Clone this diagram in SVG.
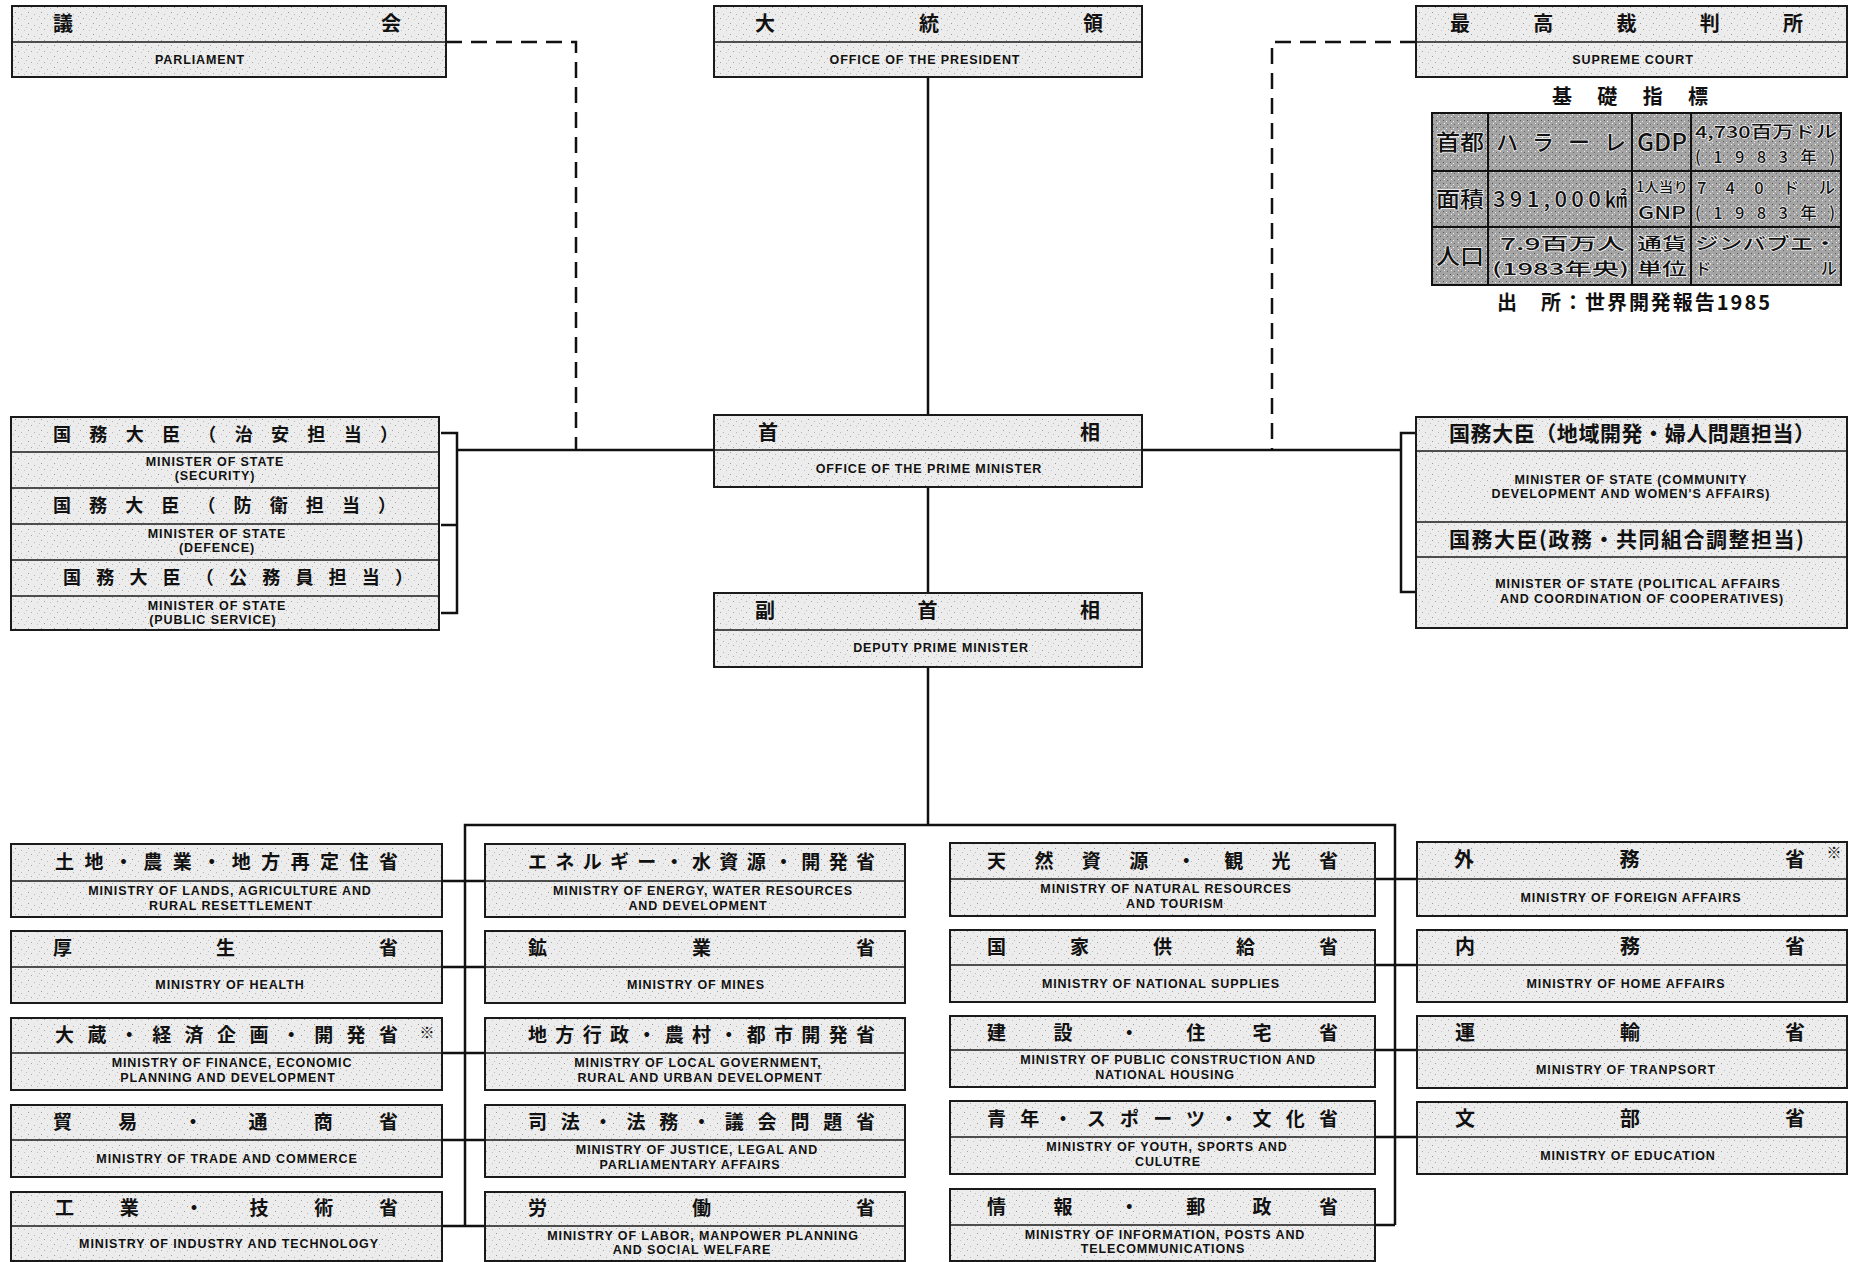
<svg xmlns="http://www.w3.org/2000/svg" width="1850" height="1262" viewBox="0 0 1850 1262">
<defs>
<pattern id="spk" width="13" height="11" patternUnits="userSpaceOnUse">
<rect width="13" height="11" fill="#ececec"/>
<rect x="2" y="1" width="1" height="1" fill="#9a9a9a"/>
<rect x="8" y="3" width="1" height="1" fill="#b5b5b5"/>
<rect x="5" y="7" width="1" height="1" fill="#a5a5a5"/>
<rect x="11" y="8" width="1" height="1" fill="#c5c5c5"/>
<rect x="0" y="5" width="1" height="1" fill="#bdbdbd"/>
</pattern>
<pattern id="dk" width="7" height="7" patternUnits="userSpaceOnUse">
<rect width="7" height="7" fill="#a4a4a4"/>
<rect x="1" y="1" width="1" height="1" fill="#555"/>
<rect x="4" y="2" width="1" height="1" fill="#eee"/>
<rect x="2" y="4" width="1" height="1" fill="#f0f0f0"/>
<rect x="5" y="5" width="1" height="1" fill="#666"/>
</pattern>
</defs>
<style>
.box{fill:url(#spk);stroke:#1a1a1a;stroke-width:2}
.dv{stroke:#1a1a1a;stroke-width:1.6}
.jp{font-family:"Noto Sans CJK JP",sans-serif;font-weight:700;fill:#111}
.en{font-family:"Liberation Sans",Arial,sans-serif;font-weight:700;font-size:12.5px;fill:#111;text-anchor:middle;letter-spacing:0.9px}
.ln{stroke:#111;stroke-width:2.5;fill:none}
.dash{stroke-dasharray:16 9}
.cell{fill:url(#dk);stroke:#111;stroke-width:2}
.tb{font-family:"Noto Sans CJK JP",sans-serif;font-weight:500;fill:#111;stroke:#f4f4f4;stroke-width:1.4;paint-order:stroke}
.tl{font-family:"Noto Sans CJK JP",sans-serif;font-weight:700;fill:#111}
</style>
<rect width="1850" height="1262" fill="#ffffff"/>

<g id="connectors">
<path class="ln dash" d="M446,42 H576 V450"/>
<path class="ln dash" d="M1416,42 H1272 V450"/>
<path class="ln" d="M928,77 V415"/>
<path class="ln" d="M928,487 V593"/>
<path class="ln" d="M928,667 V825"/>
<path class="ln" d="M457,450 H714"/>
<path class="ln" d="M1142,450 H1401"/>
<path class="ln" d="M441,433 H457 V613 H441"/>
<path class="ln" d="M441,525 H457"/>
<path class="ln" d="M1416,433 H1401 V592 H1416"/>
<path class="ln" d="M465,1226 V825 H1395 V1225"/>
<path class="ln" d="M442,881 H485 M442,967 H485 M442,1053 H485 M442,1140 H485 M442,1226 H485"/>
<path class="ln" d="M1375,879 H1417 M1375,965 H1417 M1375,1050 H1417 M1375,1137 H1417 M1375,1225 H1395"/>
</g>

<g id="parliament">
<rect class="box" x="12" y="6" width="434" height="71"/>
<line class="dv" x1="12" y1="42" x2="446" y2="42"/>
<text class="jp" x="53" y="31" font-size="20" textLength="348" lengthAdjust="spacing">議会</text>
<text class="en" x="200" y="64">PARLIAMENT</text>
</g>

<g id="president">
<rect class="box" x="714" y="6" width="428" height="71"/>
<line class="dv" x1="714" y1="42" x2="1142" y2="42"/>
<text class="jp" x="755" y="31" font-size="20" textLength="348" lengthAdjust="spacing">大統領</text>
<text class="en" x="925" y="64">OFFICE OF THE PRESIDENT</text>
</g>

<g id="supreme-court">
<rect class="box" x="1416" y="6" width="431" height="71"/>
<line class="dv" x1="1416" y1="42" x2="1847" y2="42"/>
<text class="jp" x="1450" y="31" font-size="20" textLength="353" lengthAdjust="spacing">最高裁判所</text>
<text class="en" x="1633" y="64">SUPREME COURT</text>
</g>

<g id="indicators">
<text class="tl" x="1552" y="104" font-size="20" textLength="156" lengthAdjust="spacing">基礎指標</text>
<rect class="cell" x="1432" y="113" width="56" height="58"/>
<rect class="cell" x="1488" y="113" width="144" height="58"/>
<rect class="cell" x="1632" y="113" width="59" height="58"/>
<rect class="cell" x="1691" y="113" width="150" height="58"/>
<rect class="cell" x="1432" y="171" width="56" height="56"/>
<rect class="cell" x="1488" y="171" width="144" height="56"/>
<rect class="cell" x="1632" y="171" width="59" height="56"/>
<rect class="cell" x="1691" y="171" width="150" height="56"/>
<rect class="cell" x="1432" y="227" width="56" height="58"/>
<rect class="cell" x="1488" y="227" width="144" height="58"/>
<rect class="cell" x="1632" y="227" width="59" height="58"/>
<rect class="cell" x="1691" y="227" width="150" height="58"/>
<text class="tb" x="1436" y="150" font-size="22" textLength="48" lengthAdjust="spacingAndGlyphs">首都</text>
<text class="tb" x="1496" y="150" font-size="22" textLength="130" lengthAdjust="spacing">ハラーレ</text>
<text class="tb" x="1637" y="151" font-size="24" textLength="50" lengthAdjust="spacingAndGlyphs">GDP</text>
<text class="tb" x="1695" y="138" font-size="16.5" textLength="142" lengthAdjust="spacingAndGlyphs">4,730百万ドル</text>
<text class="tb" x="1695" y="163" font-size="16.5" textLength="140" lengthAdjust="spacing">(1983年)</text>
<text class="tb" x="1436" y="207" font-size="22" textLength="48" lengthAdjust="spacingAndGlyphs">面積</text>
<text class="tb" x="1493" y="207" font-size="22" textLength="134" lengthAdjust="spacing">391,000㎢</text>
<text class="tb" x="1636" y="192" font-size="14" textLength="52" lengthAdjust="spacingAndGlyphs">1人当り</text>
<text class="tb" x="1638" y="219" font-size="17" textLength="48" lengthAdjust="spacingAndGlyphs">GNP</text>
<text class="tb" x="1697" y="194" font-size="16.5" textLength="138" lengthAdjust="spacing">740ドル</text>
<text class="tb" x="1695" y="219" font-size="16.5" textLength="140" lengthAdjust="spacing">(1983年)</text>
<text class="tb" x="1436" y="264" font-size="22" textLength="48" lengthAdjust="spacingAndGlyphs">人口</text>
<text class="tb" x="1500" y="250" font-size="16.5" textLength="125" lengthAdjust="spacingAndGlyphs">7.9百万人</text>
<text class="tb" x="1492" y="275" font-size="16.5" textLength="137" lengthAdjust="spacingAndGlyphs">(1983年央)</text>
<text class="tb" x="1637" y="250" font-size="16.5" textLength="50" lengthAdjust="spacingAndGlyphs">通貨</text>
<text class="tb" x="1637" y="275" font-size="16.5" textLength="50" lengthAdjust="spacingAndGlyphs">単位</text>
<text class="tb" x="1695" y="250" font-size="16.5" textLength="142" lengthAdjust="spacingAndGlyphs">ジンバブエ・</text>
<text class="tb" x="1695" y="275" font-size="16.5" textLength="142" lengthAdjust="spacing">ドル</text>
<text class="tl" x="1497" y="310" font-size="20" textLength="273" lengthAdjust="spacing">出　所：世界開発報告1985</text>
</g>

<g id="ministers-of-state-left">
<rect class="box" x="11" y="417" width="428" height="213"/>
<line class="dv" x1="11" y1="452" x2="439" y2="452"/>
<line class="dv" x1="11" y1="488" x2="439" y2="488"/>
<line class="dv" x1="11" y1="524" x2="439" y2="524"/>
<line class="dv" x1="11" y1="560" x2="439" y2="560"/>
<line class="dv" x1="11" y1="596" x2="439" y2="596"/>
<text class="jp" x="53" y="441" font-size="18" textLength="345" lengthAdjust="spacing">国務大臣（治安担当）</text>
<text class="en" x="215" y="466">MINISTER OF STATE</text>
<text class="en" x="215" y="480">(SECURITY)</text>
<text class="jp" x="53" y="512" font-size="18" textLength="343" lengthAdjust="spacing">国務大臣（防衛担当）</text>
<text class="en" x="217" y="538">MINISTER OF STATE</text>
<text class="en" x="217" y="552">(DEFENCE)</text>
<text class="jp" x="63" y="584" font-size="18" textLength="350" lengthAdjust="spacing">国務大臣（公務員担当）</text>
<text class="en" x="217" y="610">MINISTER OF STATE</text>
<text class="en" x="213" y="624">(PUBLIC SERVICE)</text>
</g>

<g id="prime-minister">
<rect class="box" x="714" y="415" width="428" height="72"/>
<line class="dv" x1="714" y1="450" x2="1142" y2="450"/>
<text class="jp" x="758" y="440" font-size="20" textLength="342" lengthAdjust="spacing">首相</text>
<text class="en" x="929" y="473">OFFICE OF THE PRIME MINISTER</text>
</g>

<g id="ministers-of-state-right">
<rect class="box" x="1416" y="417" width="431" height="211"/>
<line class="dv" x1="1416" y1="451" x2="1847" y2="451"/>
<line class="dv" x1="1416" y1="522" x2="1847" y2="522"/>
<line class="dv" x1="1416" y1="557" x2="1847" y2="557"/>
<text class="jp" x="1449" y="441" font-size="21" textLength="366" lengthAdjust="spacing">国務大臣（地域開発・婦人問題担当）</text>
<text class="en" x="1631" y="484">MINISTER OF STATE (COMMUNITY</text>
<text class="en" x="1631" y="498">DEVELOPMENT AND WOMEN'S AFFAIRS)</text>
<text class="jp" x="1449" y="547" font-size="21" textLength="355" lengthAdjust="spacing">国務大臣(政務・共同組合調整担当)</text>
<text class="en" x="1638" y="588">MINISTER OF STATE (POLITICAL AFFAIRS</text>
<text class="en" x="1642" y="603">AND COORDINATION OF COOPERATIVES)</text>
</g>

<g id="deputy-prime-minister">
<rect class="box" x="714" y="593" width="428" height="74"/>
<line class="dv" x1="714" y1="630" x2="1142" y2="630"/>
<text class="jp" x="755" y="618" font-size="20" textLength="345" lengthAdjust="spacing">副首相</text>
<text class="en" x="941" y="652">DEPUTY PRIME MINISTER</text>
</g>

<g id="m-lands">
<rect class="box" x="11" y="844" width="431" height="73"/>
<line class="dv" x1="11" y1="881" x2="442" y2="881"/>
<text class="jp" x="55" y="869" font-size="19" textLength="343" lengthAdjust="spacing">土地・農業・地方再定住省</text>
<text class="en" x="230" y="895">MINISTRY OF LANDS, AGRICULTURE AND</text>
<text class="en" x="231" y="910">RURAL RESETTLEMENT</text>
</g>
<g id="m-health">
<rect class="box" x="11" y="931" width="431" height="72"/>
<line class="dv" x1="11" y1="967" x2="442" y2="967"/>
<text class="jp" x="53" y="955" font-size="19" textLength="345" lengthAdjust="spacing">厚生省</text>
<text class="en" x="230" y="989">MINISTRY OF HEALTH</text>
</g>
<g id="m-finance">
<rect class="box" x="11" y="1018" width="431" height="72"/>
<line class="dv" x1="11" y1="1053" x2="442" y2="1053"/>
<text class="jp" x="55" y="1042" font-size="19" textLength="343" lengthAdjust="spacing">大蔵・経済企画・開発省</text>
<text class="jp" x="427" y="1038" font-size="15" text-anchor="middle">※</text>
<text class="en" x="232" y="1067">MINISTRY OF FINANCE, ECONOMIC</text>
<text class="en" x="228" y="1082">PLANNING AND DEVELOPMENT</text>
</g>
<g id="m-trade">
<rect class="box" x="11" y="1105" width="431" height="72"/>
<line class="dv" x1="11" y1="1140" x2="442" y2="1140"/>
<text class="jp" x="53" y="1129" font-size="19" textLength="345" lengthAdjust="spacing">貿易・通商省</text>
<text class="en" x="227" y="1163">MINISTRY OF TRADE AND COMMERCE</text>
</g>
<g id="m-industry">
<rect class="box" x="11" y="1192" width="431" height="69"/>
<line class="dv" x1="11" y1="1226" x2="442" y2="1226"/>
<text class="jp" x="55" y="1215" font-size="19" textLength="343" lengthAdjust="spacing">工業・技術省</text>
<text class="en" x="229" y="1248">MINISTRY OF INDUSTRY AND TECHNOLOGY</text>
</g>

<g id="m-energy">
<rect class="box" x="485" y="844" width="420" height="73"/>
<line class="dv" x1="485" y1="881" x2="905" y2="881"/>
<text class="jp" x="528" y="869" font-size="19" textLength="347" lengthAdjust="spacing">エネルギー・水資源・開発省</text>
<text class="en" x="703" y="895">MINISTRY OF ENERGY, WATER RESOURCES</text>
<text class="en" x="698" y="910">AND DEVELOPMENT</text>
</g>
<g id="m-mines">
<rect class="box" x="485" y="931" width="420" height="72"/>
<line class="dv" x1="485" y1="967" x2="905" y2="967"/>
<text class="jp" x="528" y="955" font-size="19" textLength="347" lengthAdjust="spacing">鉱業省</text>
<text class="en" x="696" y="989">MINISTRY OF MINES</text>
</g>
<g id="m-local-government">
<rect class="box" x="485" y="1018" width="420" height="72"/>
<line class="dv" x1="485" y1="1053" x2="905" y2="1053"/>
<text class="jp" x="528" y="1042" font-size="19" textLength="347" lengthAdjust="spacing">地方行政・農村・都市開発省</text>
<text class="en" x="698" y="1067">MINISTRY OF LOCAL GOVERNMENT,</text>
<text class="en" x="700" y="1082">RURAL AND URBAN DEVELOPMENT</text>
</g>
<g id="m-justice">
<rect class="box" x="485" y="1105" width="420" height="72"/>
<line class="dv" x1="485" y1="1140" x2="905" y2="1140"/>
<text class="jp" x="528" y="1129" font-size="19" textLength="347" lengthAdjust="spacing">司法・法務・議会問題省</text>
<text class="en" x="697" y="1154">MINISTRY OF JUSTICE, LEGAL AND</text>
<text class="en" x="690" y="1169">PARLIAMENTARY AFFAIRS</text>
</g>
<g id="m-labor">
<rect class="box" x="485" y="1192" width="420" height="69"/>
<line class="dv" x1="485" y1="1226" x2="905" y2="1226"/>
<text class="jp" x="528" y="1215" font-size="19" textLength="347" lengthAdjust="spacing">労働省</text>
<text class="en" x="703" y="1240">MINISTRY OF LABOR, MANPOWER PLANNING</text>
<text class="en" x="692" y="1254">AND SOCIAL WELFARE</text>
</g>

<g id="m-natural-resources">
<rect class="box" x="950" y="843" width="425" height="73"/>
<line class="dv" x1="950" y1="879" x2="1375" y2="879"/>
<text class="jp" x="987" y="868" font-size="19" textLength="351" lengthAdjust="spacing">天然資源・観光省</text>
<text class="en" x="1166" y="893">MINISTRY OF NATURAL RESOURCES</text>
<text class="en" x="1175" y="908">AND TOURISM</text>
</g>
<g id="m-national-supplies">
<rect class="box" x="950" y="930" width="425" height="72"/>
<line class="dv" x1="950" y1="965" x2="1375" y2="965"/>
<text class="jp" x="987" y="954" font-size="19" textLength="351" lengthAdjust="spacing">国家供給省</text>
<text class="en" x="1161" y="988">MINISTRY OF NATIONAL SUPPLIES</text>
</g>
<g id="m-public-construction">
<rect class="box" x="950" y="1016" width="425" height="71"/>
<line class="dv" x1="950" y1="1050" x2="1375" y2="1050"/>
<text class="jp" x="987" y="1040" font-size="19" textLength="351" lengthAdjust="spacing">建設・住宅省</text>
<text class="en" x="1168" y="1064">MINISTRY OF PUBLIC CONSTRUCTION AND</text>
<text class="en" x="1165" y="1079">NATIONAL HOUSING</text>
</g>
<g id="m-youth">
<rect class="box" x="950" y="1101" width="425" height="73"/>
<line class="dv" x1="950" y1="1137" x2="1375" y2="1137"/>
<text class="jp" x="987" y="1126" font-size="19" textLength="351" lengthAdjust="spacing">青年・スポーツ・文化省</text>
<text class="en" x="1167" y="1151">MINISTRY OF YOUTH, SPORTS AND</text>
<text class="en" x="1168" y="1166">CULUTRE</text>
</g>
<g id="m-information">
<rect class="box" x="950" y="1189" width="425" height="72"/>
<line class="dv" x1="950" y1="1225" x2="1375" y2="1225"/>
<text class="jp" x="987" y="1214" font-size="19" textLength="351" lengthAdjust="spacing">情報・郵政省</text>
<text class="en" x="1165" y="1239">MINISTRY OF INFORMATION, POSTS AND</text>
<text class="en" x="1163" y="1253">TELECOMMUNICATIONS</text>
</g>

<g id="m-foreign">
<rect class="box" x="1417" y="842" width="430" height="74"/>
<line class="dv" x1="1417" y1="879" x2="1847" y2="879"/>
<text class="jp" x="1454" y="867" font-size="20" textLength="351" lengthAdjust="spacing">外務省</text>
<text class="jp" x="1834" y="858" font-size="15" text-anchor="middle">※</text>
<text class="en" x="1631" y="902">MINISTRY OF FOREIGN AFFAIRS</text>
</g>
<g id="m-home">
<rect class="box" x="1417" y="930" width="430" height="72"/>
<line class="dv" x1="1417" y1="965" x2="1847" y2="965"/>
<text class="jp" x="1455" y="954" font-size="20" textLength="350" lengthAdjust="spacing">内務省</text>
<text class="en" x="1626" y="988">MINISTRY OF HOME AFFAIRS</text>
</g>
<g id="m-transport">
<rect class="box" x="1417" y="1016" width="430" height="72"/>
<line class="dv" x1="1417" y1="1050" x2="1847" y2="1050"/>
<text class="jp" x="1455" y="1040" font-size="20" textLength="350" lengthAdjust="spacing">運輸省</text>
<text class="en" x="1626" y="1074">MINISTRY OF TRANPSORT</text>
</g>
<g id="m-education">
<rect class="box" x="1417" y="1102" width="430" height="72"/>
<line class="dv" x1="1417" y1="1137" x2="1847" y2="1137"/>
<text class="jp" x="1455" y="1126" font-size="20" textLength="350" lengthAdjust="spacing">文部省</text>
<text class="en" x="1628" y="1160">MINISTRY OF EDUCATION</text>
</g>
</svg>
